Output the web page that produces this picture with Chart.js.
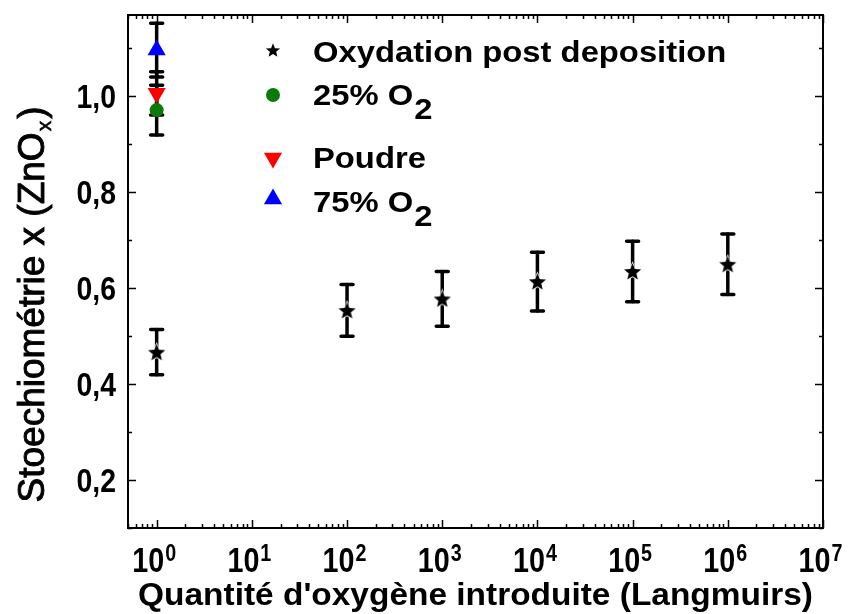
<!DOCTYPE html>
<html>
<head>
<meta charset="utf-8">
<script src="https://cdn.jsdelivr.net/npm/chart.js@4.4.1/dist/chart.umd.min.js"></script>
<style>
  html, body { margin: 0; padding: 0; background: #fff; }
  #wrap { width: 849px; height: 614px; position: relative; }
</style>
</head>
<body>
<div id="wrap"><canvas id="stoechChart"></canvas></div>
<script>
const FONT = '"Liberation Sans", Arial, sans-serif';

// Oxydation post deposition
const oxyX = [1, 100, 1000, 10000, 100000, 1000000];
const oxyY = [0.466, 0.553, 0.577, 0.613, 0.634, 0.649];
const oxyErr = [0.047, 0.054, 0.057, 0.061, 0.063, 0.063];

// 25% O2, Poudre, 75% O2 (all at 1 Langmuir)
const o2lowX = [1];
const o2lowY = [0.970];
const o2lowErr = [0.052];
const poudreX = [1];
const poudreY = [1.005];
const poudreErr = [0.045];
const o2highX = [1];
const o2highY = [1.095];
const o2highErr = [0.056];

// axes
const xExponents = [0, 1, 2, 3, 4, 5, 6, 7];
const yTicks = [0.2, 0.4, 0.6, 0.8, 1.0];
const yMinorTicks = [0.1, 0.3, 0.5, 0.7, 0.9, 1.1];

// legend text: main part + subscript
const legendText = ['Oxydation post deposition', '25% O', 'Poudre', '75% O'];
const legendSub = ['', '2', '', '2'];

function makeStar(size, color) {
  const c = document.createElement('canvas');
  c.width = size; c.height = size;
  const g = c.getContext('2d');
  const r = size / 2 - 1.5, ri = r * 0.44, cx = size / 2, cy = size / 2 + 0.8;
  g.beginPath();
  for (let i = 0; i < 10; i++) {
    const a = -Math.PI / 2 + i * Math.PI / 5;
    const rr = i % 2 ? ri : r;
    g.lineTo(cx + rr * Math.cos(a), cy + rr * Math.sin(a));
  }
  g.closePath();
  g.lineWidth = 1.5;
  g.strokeStyle = '#fff';
  g.stroke();
  g.fillStyle = color;
  g.fill();
  return c;
}
const starImg = makeStar(21, '#000');
const starSmall = makeStar(18, '#000');

function pts(xs, ys) {
  return xs.map((x, i) => ({ x: x, y: ys[i] }));
}

const datasets = [
  { label: legendText[0], data: pts(oxyX, oxyY), errors: oxyErr,
    pointStyle: starImg, pointRadius: 9, backgroundColor: '#000', borderColor: '#000' },
  { label: legendText[1], data: pts(o2lowX, o2lowY), errors: o2lowErr,
    pointStyle: 'circle', pointRadius: 7, backgroundColor: '#0a7a0a', borderColor: '#0a7a0a', borderWidth: 0 },
  { label: legendText[2], data: pts(poudreX, poudreY), errors: poudreErr,
    pointStyle: 'triangle', pointRotation: 180, pointRadius: 10.5, backgroundColor: '#ff0000', borderColor: '#ff0000', borderWidth: 0 },
  { label: legendText[3], data: pts(o2highX, o2highY), errors: o2highErr,
    pointStyle: 'triangle', pointRadius: 10.5, backgroundColor: '#0000ff', borderColor: '#0000ff', borderWidth: 0 }
];

// draw text with horizontal squeeze / stretch
function txt(ctx, s, x, y, size, sx, align, weight, stroke) {
  ctx.save();
  ctx.font = (weight || 'bold') + ' ' + size + 'px ' + FONT;
  ctx.translate(x, y);
  ctx.scale(sx, 1);
  ctx.textAlign = align || 'left';
  ctx.textBaseline = 'alphabetic';
  ctx.fillStyle = '#000';
  ctx.fillText(s, 0, 0);
  if (stroke) {
    ctx.strokeStyle = '#000';
    ctx.lineWidth = stroke;
    ctx.strokeText(s, 0, 0);
  }
  ctx.restore();
}
function txtW(ctx, s, size, sx, weight) {
  ctx.save();
  ctx.font = (weight || 'bold') + ' ' + size + 'px ' + FONT;
  const w = ctx.measureText(s).width * sx;
  ctx.restore();
  return w;
}

const errorBars = {
  id: 'errorBars',
  beforeDatasetsDraw(chart) {
    const ctx = chart.ctx, xs = chart.scales.x, ys = chart.scales.y;
    ctx.save();
    ctx.strokeStyle = '#000';
    ctx.lineCap = 'round';
    chart.data.datasets.forEach(ds => {
      ds.data.forEach((p, i) => {
        const e = ds.errors[i];
        const px = xs.getPixelForValue(p.x);
        const top = ys.getPixelForValue(p.y + e);
        const bot = ys.getPixelForValue(p.y - e);
        ctx.lineWidth = 3.5;
        ctx.beginPath();
        ctx.moveTo(px, top); ctx.lineTo(px, bot);
        ctx.stroke();
        ctx.beginPath();
        ctx.moveTo(px - 6, top); ctx.lineTo(px + 6, top);
        ctx.moveTo(px - 6, bot); ctx.lineTo(px + 6, bot);
        ctx.stroke();
      });
    });
    ctx.restore();
  }
};

const frameAndText = {
  id: 'frameAndText',
  afterDraw(chart) {
    const ctx = chart.ctx, xs = chart.scales.x, ys = chart.scales.y;
    const a = chart.chartArea;
    ctx.save();
    ctx.strokeStyle = '#000';
    ctx.lineWidth = 2;
    ctx.strokeRect(a.left, a.top, a.right - a.left, a.bottom - a.top);

    // x ticks (log, inside, bottom and top)
    ctx.lineWidth = 1.5;
    ctx.beginPath();
    for (let d = -1; d <= 7; d++) {
      for (let k = 1; k <= 9; k++) {
        const v = k * Math.pow(10, d);
        if (v < xs.min || v > xs.max) continue;
        const px = Math.round(xs.getPixelForValue(v)) + 0.5;
        const len = k === 1 ? 8 : 4;
        ctx.moveTo(px, a.bottom); ctx.lineTo(px, a.bottom - len);
        ctx.moveTo(px, a.top); ctx.lineTo(px, a.top + len);
      }
    }
    // y ticks, left and right
    yTicks.concat(yMinorTicks).forEach(v => {
      const py = Math.round(ys.getPixelForValue(v)) + 0.5;
      const len = yTicks.includes(v) ? 8 : 4;
      ctx.moveTo(a.left, py); ctx.lineTo(a.left + len, py);
      ctx.moveTo(a.right, py); ctx.lineTo(a.right - len, py);
    });
    ctx.stroke();

    // y tick labels
    yTicks.forEach(v => {
      const py = ys.getPixelForValue(v);
      txt(ctx, v.toFixed(1).replace('.', ','), a.left - 12, py + 12, 33, 0.86, 'right');
    });

    // x tick labels 10^n
    xExponents.forEach(n => {
      const px = xs.getPixelForValue(Math.pow(10, n));
      const w1 = txtW(ctx, '10', 35, 0.82);
      const w2 = txtW(ctx, String(n), 24, 0.82);
      const x0 = px - (w1 + w2) / 2 - 3;
      txt(ctx, '10', x0, 572, 35, 0.82);
      txt(ctx, String(n), x0 + w1 + 1, 561, 24, 0.82);
    });

    // x title
    txt(ctx, "Quantité d'oxygène introduite (Langmuirs)", (a.left + a.right) / 2, 605, 32, 1.045, 'center');

    // y title, rotated, with subscript x
    ctx.save();
    ctx.translate(44, 306);
    ctx.rotate(-Math.PI / 2);
    const p1 = 'Stoechiométrie x (ZnO', p2 = 'x', p3 = ')';
    const ySize = 37, W = 'normal';
    const w1 = txtW(ctx, p1, ySize, 1, W), w2 = txtW(ctx, p2, 21, 1, W), w3 = txtW(ctx, p3, ySize, 1, W);
    let x0 = -(w1 + w2 + w3) / 2;
    txt(ctx, p1, x0, 0, ySize, 1, 'left', W, 0.9);
    txt(ctx, p2, x0 + w1 + 1, 7, 21, 1, 'left', W, 0.6);
    txt(ctx, p3, x0 + w1 + w2 + 3, 0, ySize, 1, 'left', W, 0.9);
    ctx.restore();

    // legend
    const rowMarkY = [50, 95, 158, 199];
    const rowBase = [62, 105, 168, 212];
    chart.data.datasets.forEach((ds, i) => {
      ctx.fillStyle = ds.backgroundColor;
      ctx.strokeStyle = ds.borderColor;
      Chart.helpers.drawPoint(ctx, {
        pointStyle: i === 0 ? starSmall : ds.pointStyle,
        rotation: ds.pointRotation || 0,
        radius: ds.pointStyle === 'circle' ? 7 : (ds.pointStyle === 'triangle' ? 10.5 : 8),
        borderWidth: 0
      }, 273, rowMarkY[i]);
      txt(ctx, legendText[i], 313, rowBase[i], 29, 1.13);
      if (legendSub[i]) {
        const w = txtW(ctx, legendText[i], 29, 1.13);
        txt(ctx, legendSub[i], 313 + w + 1, rowBase[i] + 14, 29, 1.13);
      }
    });
    ctx.restore();
  }
};

new Chart(document.getElementById('stoechChart'), {
  type: 'scatter',
  data: { datasets: datasets },
  options: {
    responsive: true,
    maintainAspectRatio: false,
    animation: false,
    layout: { padding: { top: 15, right: 26, bottom: 0, left: 0 } },
    plugins: { legend: { display: false }, tooltip: { enabled: false } },
    scales: {
      x: {
        type: 'logarithmic',
        min: 0.5,
        max: 1e7,
        grid: { display: false, drawTicks: false },
        border: { display: false },
        ticks: { display: false },
        afterFit(scale) { scale.height = 86; }
      },
      y: {
        min: 0.1,
        max: 1.168,
        grid: { display: false, drawTicks: false },
        border: { display: false },
        ticks: { display: false },
        afterFit(scale) { scale.width = 128; }
      }
    }
  },
  plugins: [errorBars, frameAndText]
});
</script>
</body>
</html>
